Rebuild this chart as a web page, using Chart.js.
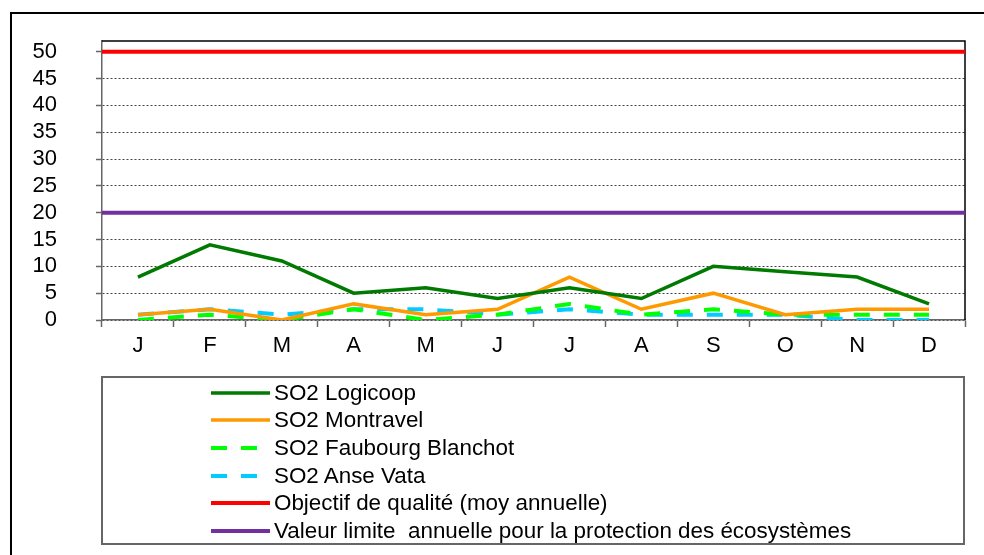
<!DOCTYPE html>
<html>
<head>
<meta charset="utf-8">
<script src="https://cdn.jsdelivr.net/npm/chart.js"></script>
<style>
  body { margin: 0; background: #fff; overflow: hidden; }
  #quadro { position: relative; width: 984px; height: 555px; }
  #borda { position: absolute; left: 10px; top: 12px; width: 1000px; height: 600px;
           border-left: 2px solid #000; border-top: 2px solid #000; }
  #grafLinhas { position: absolute; left: 0; top: 0; }
  #legenda { position: absolute; left: 101px; top: 376px; width: 860px; height: 164px;
             border: 2px solid #666; background: #fff; padding-top: 1px; }
  .item { display: flex; align-items: center; height: 27.6px; margin-left: 108px;
          font: 22.4px "Liberation Sans", Arial, sans-serif; color: #000; white-space: pre; }
  .item canvas { margin-right: 4px; }
</style>
</head>
<body>
<div id="quadro">
  <div id="borda"></div>
  <canvas id="grafLinhas" width="984" height="555"></canvas>
  <div id="legenda"></div>
</div>
<script>
const meses = ['J', 'F', 'M', 'A', 'M', 'J', 'J', 'A', 'S', 'O', 'N', 'D']
const ticksY = [0, 5, 10, 15, 20, 25, 30, 35, 40, 45, 50]

// SO2 moyennes mensuelles
const vetLogicoop = [8, 14, 11, 5, 6, 4, 6, 4, 10, 9, 8, 3]
const vetMontravel = [1, 2, 0, 3, 1, 2, 8, 2, 5, 1, 2, 2]
const vetFaubourg = [0, 1, 0, 2, 0, 1, 3, 1, 2, 1, 1, 1]
const vetAnseVata = [1, 2, 1, 2, 2, 1, 2, 1, 1, 1, 0, 0]

// seuils
const objectifQualite = 50
const valeurLimite = 20

const nomes = [
    'SO2 Logicoop',
    'SO2 Montravel',
    'SO2 Faubourg Blanchot',
    'SO2 Anse Vata',
    'Objectif de qualité (moy annuelle)',
    'Valeur limite  annuelle pour la protection des écosystèmes'
]

// ligne horizontale sur toute la largeur (axe x2 de 0 a 12)
function seuil(v) {
    return [{ x: 0, y: v }, { x: meses.length, y: v }]
}

const fonte = { family: '"Liberation Sans", Arial, sans-serif', size: 22 }

const moldura = {
    id: 'moldura',
    beforeDatasetsDraw(chart) {
        const a = chart.chartArea
        const ctx = chart.ctx
        ctx.save()
        ctx.strokeStyle = '#000'
        ctx.lineWidth = 1.5
        ctx.beginPath()
        ctx.moveTo(a.left, a.top)
        ctx.lineTo(a.right, a.top)
        ctx.lineTo(a.right, a.bottom)
        ctx.stroke()
        ctx.restore()
    }
}

const grafLinhas = document.getElementById('grafLinhas')

const grafico = new Chart(grafLinhas, {
    type: 'line',
    data: {
        labels: meses,
        datasets: [
            { label: nomes[0], data: vetLogicoop, borderColor: '#007A00', borderWidth: 3.5 },
            { label: nomes[1], data: vetMontravel, borderColor: '#FF9900', borderWidth: 3.5 },
            { label: nomes[2], data: vetFaubourg, borderColor: '#00FF00', borderWidth: 4, borderDash: [16, 14] },
            { label: nomes[3], data: vetAnseVata, borderColor: '#00CCFF', borderWidth: 4, borderDash: [16, 14] },
            { label: nomes[4], data: seuil(objectifQualite), xAxisID: 'x2', borderColor: '#FF0000', borderWidth: 4 },
            { label: nomes[5], data: seuil(valeurLimite), xAxisID: 'x2', borderColor: '#7030A0', borderWidth: 4 }
        ]
    },
    options: {
        responsive: false,
        animation: false,
        devicePixelRatio: 1,
        layout: { padding: { left: 0, right: 19, top: 41, bottom: 0 } },
        elements: {
            point: { radius: 0, hoverRadius: 0 },
            line: { tension: 0, fill: false, borderCapStyle: 'butt' }
        },
        plugins: {
            legend: { display: false },
            tooltip: { enabled: false }
        },
        scales: {
            x: {
                type: 'category',
                offset: true,
                grid: { offset: true, drawOnChartArea: false, drawTicks: true, tickLength: 7, tickColor: '#666', tickWidth: 1.5 },
                border: { color: '#666', width: 1.5 },
                ticks: { font: fonte, color: '#000', padding: 6, maxRotation: 0, autoSkip: false },
                afterFit: s => { s.height = 235 }
            },
            x2: { type: 'linear', min: 0, max: meses.length, display: false },
            y: {
                min: 0,
                max: 52,
                ticks: { font: fonte, color: '#000', padding: 39, autoSkip: false },
                afterBuildTicks: s => { s.ticks = ticksY.map(v => ({ value: v })) },
                afterFit: s => { s.width = 102; s.paddingTop = 0 },
                grid: { color: '#444', lineWidth: 1, tickLength: 6, tickColor: '#666', tickWidth: 1.5 },
                border: { color: '#666', width: 1.5, dash: [2, 2] }
            }
        }
    },
    plugins: [moldura]
})

// legende en HTML
const legenda = document.getElementById('legenda')
grafico.data.datasets.forEach(ds => {
    const item = document.createElement('div')
    item.className = 'item'
    const amostra = document.createElement('canvas')
    amostra.width = 59
    amostra.height = 8
    const c = amostra.getContext('2d')
    c.strokeStyle = ds.borderColor
    c.lineWidth = ds.borderWidth
    c.setLineDash(ds.borderDash || [])
    c.beginPath()
    c.moveTo(0, 4)
    c.lineTo(59, 4)
    c.stroke()
    const txt = document.createElement('span')
    txt.textContent = ds.label
    item.appendChild(amostra)
    item.appendChild(txt)
    legenda.appendChild(item)
})
</script>
</body>
</html>
